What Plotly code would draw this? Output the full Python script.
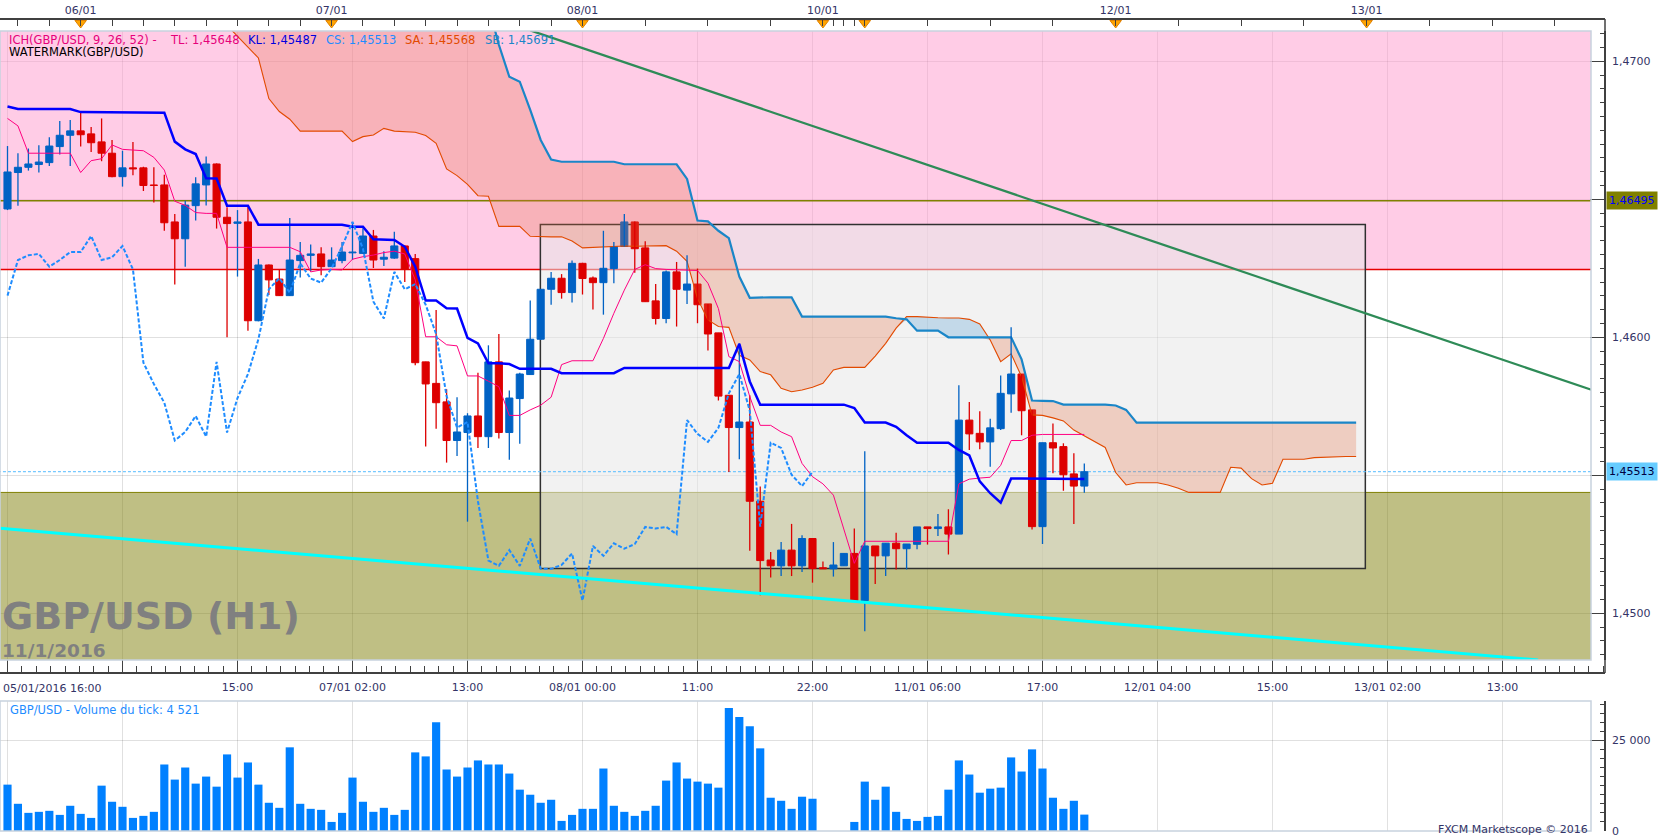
import numpy as np
import plotly.graph_objects as go

# GBP/USD H1 (FXCM Marketscope) - bar 0 = 05/01 17:00, one bar per hour
opens = [
    1.46465, 1.46597, 1.46616, 1.46626, 1.46633, 1.46691, 1.46732, 1.46748, 1.46737, 1.46708,
    1.46667, 1.46582, 1.46614, 1.46614, 1.46552, 1.46552, 1.46418, 1.46357, 1.46477, 1.46552,
    1.46628, 1.46435, 1.46413, 1.46418, 1.46060, 1.46262, 1.46211, 1.46151, 1.46278, 1.46297,
    1.46302, 1.46256, 1.46278, 1.46306, 1.46304, 1.46367, 1.46283, 1.46287, 1.46331, 1.46285,
    1.45911, 1.45833, 1.45766, 1.45626, 1.45655, 1.45715, 1.45640, 1.45911, 1.45655, 1.45778,
    1.45865, 1.45993, 1.46174, 1.46214, 1.46162, 1.46268, 1.46215, 1.46198, 1.46249, 1.46329,
    1.46418, 1.46324, 1.46132, 1.46068, 1.46237, 1.46171, 1.46193, 1.46121, 1.46016, 1.45790,
    1.45673, 1.45693, 1.45406, 1.45193, 1.45172, 1.45229, 1.45172, 1.45271, 1.45165, 1.45161,
    1.45172, 1.45217, 1.45046, 1.45244, 1.45208, 1.45254, 1.45234, 1.45250, 1.45313, 1.45307,
    1.45313, 1.45287, 1.45700, 1.45652, 1.45621, 1.45669, 1.45795, 1.45867, 1.45737, 1.45314,
    1.45618, 1.45604, 1.45505, 1.45461,
]
highs = [
    1.46693, 1.46667, 1.46684, 1.46696, 1.46725, 1.46784, 1.46787, 1.46814, 1.46762, 1.46793,
    1.46715, 1.46676, 1.46708, 1.46618, 1.46616, 1.46589, 1.46447, 1.46495, 1.46580, 1.46655,
    1.46630, 1.46471, 1.46461, 1.46471, 1.46284, 1.46264, 1.46244, 1.46432, 1.46345, 1.46336,
    1.46326, 1.46326, 1.46345, 1.46415, 1.46395, 1.46389, 1.46312, 1.46382, 1.46333, 1.46302,
    1.45911, 1.46099, 1.45812, 1.45783, 1.45725, 1.45872, 1.45971, 1.46012, 1.45807, 1.45872,
    1.46133, 1.46174, 1.46237, 1.46229, 1.46278, 1.46270, 1.46220, 1.46386, 1.46345, 1.46447,
    1.46420, 1.46348, 1.46193, 1.46242, 1.46273, 1.46297, 1.46249, 1.46121, 1.46016, 1.45790,
    1.45978, 1.45790, 1.45459, 1.45222, 1.45258, 1.45324, 1.45283, 1.45271, 1.45188, 1.45258,
    1.45217, 1.45307, 1.45587, 1.45244, 1.45254, 1.45292, 1.45251, 1.45313, 1.45313, 1.45360,
    1.45377, 1.45826, 1.45766, 1.45732, 1.45705, 1.45862, 1.46036, 1.45867, 1.45737, 1.45618,
    1.45688, 1.45616, 1.45580, 1.45543,
]
lows = [
    1.46461, 1.46477, 1.46604, 1.46597, 1.46621, 1.46662, 1.46621, 1.46691, 1.46671, 1.46638,
    1.46580, 1.46546, 1.46587, 1.46530, 1.46488, 1.46386, 1.46191, 1.46256, 1.46423, 1.46478,
    1.46394, 1.46000, 1.46220, 1.46024, 1.46058, 1.46153, 1.46150, 1.46150, 1.46217, 1.46239,
    1.46225, 1.46255, 1.46268, 1.46280, 1.46302, 1.46251, 1.46258, 1.46285, 1.46200, 1.45899,
    1.45604, 1.45669, 1.45546, 1.45570, 1.45332, 1.45599, 1.45599, 1.45633, 1.45556, 1.45614,
    1.45865, 1.45990, 1.46118, 1.46140, 1.46126, 1.46155, 1.46101, 1.46082, 1.46196, 1.46329,
    1.46234, 1.46129, 1.46046, 1.46051, 1.46039, 1.46121, 1.46051, 1.45952, 1.45771, 1.45512,
    1.45558, 1.45227, 1.45065, 1.45130, 1.45135, 1.45135, 1.45150, 1.45111, 1.45161, 1.45133,
    1.45172, 1.45046, 1.44935, 1.45106, 1.45135, 1.45159, 1.45159, 1.45232, 1.45249, 1.45280,
    1.45213, 1.45287, 1.45592, 1.45594, 1.45531, 1.45664, 1.45727, 1.45645, 1.45304, 1.45251,
    1.45507, 1.45444, 1.45324, 1.45437,
]
closes = [
    1.46599, 1.46616, 1.46628, 1.46635, 1.46693, 1.46732, 1.46748, 1.46734, 1.46705, 1.46667,
    1.46582, 1.46614, 1.46610, 1.46550, 1.46550, 1.46415, 1.46357, 1.46479, 1.46556, 1.46628,
    1.46435, 1.46412, 1.46418, 1.46060, 1.46262, 1.46208, 1.46151, 1.46280, 1.46297, 1.46302,
    1.46256, 1.46280, 1.46309, 1.46309, 1.46367, 1.46280, 1.46290, 1.46331, 1.46246, 1.45908,
    1.45831, 1.45763, 1.45626, 1.45657, 1.45715, 1.45640, 1.45911, 1.45655, 1.45780, 1.45867,
    1.45993, 1.46174, 1.46214, 1.46162, 1.46268, 1.46213, 1.46198, 1.46250, 1.46329, 1.46418,
    1.46321, 1.46129, 1.46068, 1.46237, 1.46174, 1.46193, 1.46118, 1.46012, 1.45787, 1.45673,
    1.45693, 1.45406, 1.45191, 1.45172, 1.45229, 1.45172, 1.45271, 1.45162, 1.45161, 1.45175,
    1.45217, 1.45046, 1.45244, 1.45208, 1.45254, 1.45234, 1.45251, 1.45313, 1.45307, 1.45313,
    1.45287, 1.45700, 1.45650, 1.45621, 1.45672, 1.45797, 1.45867, 1.45734, 1.45314, 1.45618,
    1.45599, 1.45502, 1.45461, 1.45513,
]
tick_volume = [
    12780, 7500, 5000, 5280, 5560, 4440, 6950, 4720, 3610, 12500,
    8060, 6670, 3610, 4170, 5280, 18330, 14170, 17500, 13060, 15000,
    12220, 21110, 14720, 18890, 12780, 7780, 6390, 23060, 7500, 6110,
    5830, 2500, 5000, 14720, 8060, 5280, 6390, 4440, 5830, 21670,
    20560, 30000, 16950, 15000, 17500, 19450, 18330, 18330, 15830, 11390,
    10000, 7780, 8610, 2780, 4440, 6110, 6110, 17220, 6950, 5280,
    4170, 5560, 6950, 13890, 18890, 14450, 13610, 13060, 11950, 33890,
    31390, 28890, 22780, 9170, 8330, 6110, 9450, 8890, 0, 0,
    0, 2500, 13610, 8610, 12220, 5280, 3330, 2780, 3890, 4170,
    11390, 19450, 15560, 10560, 11670, 11950, 20280, 16390, 22500, 17220,
    9170, 6110, 8330, 4521,
]
tenkan = [
    1.46793, 1.46766, 1.46667, 1.46667, 1.46667, 1.46667, 1.46667, 1.46597, 1.46640, 1.46647,
    1.46697, 1.46681, 1.46679, 1.46676, 1.46652, 1.46606, 1.46493, 1.46478, 1.46452, 1.46449,
    1.46449, 1.46326, 1.46326, 1.46326, 1.46326, 1.46326, 1.46326, 1.46326, 1.46310, 1.46237,
    1.46244, 1.46246, 1.46244, 1.46283, 1.46292, 1.46298, 1.46307, 1.46312, 1.46302, 1.46208,
    1.46002, 1.46002, 1.45973, 1.45969, 1.45860, 1.45860, 1.45841, 1.45821, 1.45717, 1.45717,
    1.45737, 1.45754, 1.45783, 1.45901, 1.45915, 1.45915, 1.45915, 1.45996, 1.46087, 1.46171,
    1.46246, 1.46263, 1.46249, 1.46246, 1.46244, 1.46244, 1.46242, 1.46196, 1.46104, 1.45930,
    1.45912, 1.45785, 1.45681, 1.45681, 1.45657, 1.45640, 1.45543, 1.45495, 1.45469, 1.45428,
    1.45300, 1.45181, 1.45261, 1.45261, 1.45261, 1.45261, 1.45261, 1.45261, 1.45261, 1.45261,
    1.45261, 1.45469, 1.45486, 1.45490, 1.45493, 1.45536, 1.45626, 1.45626, 1.45645, 1.45648,
    1.45648, 1.45648, 1.45648, 1.45648,
]
kijun = [
    1.46836, 1.46827, 1.46827, 1.46827, 1.46827, 1.46827, 1.46827, 1.46816, 1.46816, 1.46816,
    1.46816, 1.46816, 1.46816, 1.46816, 1.46816, 1.46814, 1.46709, 1.46681, 1.46664, 1.46576,
    1.46575, 1.46477, 1.46477, 1.46477, 1.46408, 1.46408, 1.46408, 1.46408, 1.46408, 1.46408,
    1.46408, 1.46408, 1.46408, 1.46401, 1.46401, 1.46355, 1.46353, 1.46353, 1.46328, 1.46256,
    1.46133, 1.46133, 1.46105, 1.46104, 1.45998, 1.45978, 1.45906, 1.45906, 1.45903, 1.45886,
    1.45886, 1.45886, 1.45886, 1.45870, 1.45870, 1.45870, 1.45870, 1.45870, 1.45870, 1.45889,
    1.45889, 1.45889, 1.45889, 1.45889, 1.45889, 1.45889, 1.45889, 1.45889, 1.45889, 1.45889,
    1.45976, 1.45840, 1.45756, 1.45756, 1.45756, 1.45756, 1.45756, 1.45756, 1.45756, 1.45756,
    1.45756, 1.45744, 1.45691, 1.45691, 1.45691, 1.45676, 1.45645, 1.45618, 1.45618, 1.45618,
    1.45618, 1.45592, 1.45572, 1.45478, 1.45435, 1.45401, 1.45488, 1.45488, 1.45488, 1.45488,
    1.45488, 1.45488, 1.45488, 1.45487,
]
# Senkou spans as drawn (already shifted 26 bars ahead), first value at bar 21
cloud_first_bar = 21
span_a = [
    1.47130, 1.47090, 1.47050, 1.47012, 1.46865, 1.46818, 1.46790, 1.46747, 1.46747, 1.46747,
    1.46747, 1.46747, 1.46709, 1.46727, 1.46733, 1.46757, 1.46747, 1.46745, 1.46743, 1.46731,
    1.46703, 1.46610, 1.46586, 1.46554, 1.46513, 1.46511, 1.46402, 1.46402, 1.46402, 1.46366,
    1.46364, 1.46364, 1.46364, 1.46349, 1.46324, 1.46326, 1.46327, 1.46329, 1.46331, 1.46330,
    1.46331, 1.46333, 1.46332, 1.46312, 1.46275, 1.46140, 1.46063, 1.46039, 1.46036, 1.45935,
    1.45918, 1.45876, 1.45864, 1.45815, 1.45803, 1.45809, 1.45819, 1.45833, 1.45882, 1.45891,
    1.45891, 1.45891, 1.45932, 1.45978, 1.46033, 1.46075, 1.46075, 1.46072, 1.46071, 1.46070,
    1.46070, 1.46065, 1.46048, 1.45990, 1.45912, 1.45940, 1.45857, 1.45719, 1.45717, 1.45708,
    1.45697, 1.45664, 1.45643, 1.45622, 1.45601, 1.45510, 1.45465, 1.45473, 1.45473, 1.45473,
    1.45465, 1.45453, 1.45438, 1.45438, 1.45438, 1.45438, 1.45529, 1.45526, 1.45488, 1.45465,
    1.45471, 1.45558, 1.45558, 1.45558, 1.45564, 1.45566, 1.45567, 1.45568, 1.45568,
]
span_b = [
    1.47300, 1.47300, 1.47300, 1.47300, 1.47300, 1.47300, 1.47300, 1.47300, 1.47300, 1.47300,
    1.47300, 1.47300, 1.47300, 1.47300, 1.47300, 1.47300, 1.47300, 1.47300, 1.47300, 1.47300,
    1.47300, 1.47300, 1.47300, 1.47300, 1.47300, 1.47200, 1.47060, 1.46944, 1.46926, 1.46824,
    1.46715, 1.46644, 1.46636, 1.46636, 1.46636, 1.46636, 1.46636, 1.46636, 1.46627, 1.46627,
    1.46627, 1.46627, 1.46627, 1.46627, 1.46574, 1.46423, 1.46420, 1.46386, 1.46359, 1.46220,
    1.46143, 1.46145, 1.46145, 1.46145, 1.46145, 1.46075, 1.46075, 1.46075, 1.46075, 1.46075,
    1.46075, 1.46075, 1.46075, 1.46075, 1.46069, 1.46065, 1.46024, 1.46024, 1.46024, 1.46000,
    1.46000, 1.46000, 1.46000, 1.46000, 1.46000, 1.46000, 1.45920, 1.45771, 1.45770, 1.45769,
    1.45756, 1.45756, 1.45756, 1.45756, 1.45756, 1.45753, 1.45737, 1.45691, 1.45691, 1.45691,
    1.45691, 1.45691, 1.45691, 1.45691, 1.45691, 1.45691, 1.45691, 1.45691, 1.45691, 1.45691,
    1.45691, 1.45691, 1.45691, 1.45691, 1.45691, 1.45691, 1.45691, 1.45691, 1.45691,
]
chikou_shift = 26

# drawing objects on the chart
green_trend_bars = [50.0, 151.5]
green_trend_prices = [1.47112, 1.45810]
cyan_trend_bars = [-0.7, 146.4]
cyan_trend_prices = [1.45308, 1.44831]
box_bars = [50.97, 129.88]
box_prices = [1.45162, 1.46409]
pink_zone_low = 1.46246
olive_line_level = 1.46495
olive_zone_high = 1.45438
last_price = 1.45513

# axes labels
price_ticks = [1.4500, 1.4550, 1.4600, 1.4650, 1.4700]
price_tick_text = ["1,4500", "", "1,4600", "", "1,4700"]   # hidden ones sit under the price boxes
grid_bars = [0, 11, 22, 33, 44, 55, 66, 77, 88, 99, 110, 121, 132, 143]
grid_labels = ["", "", "15:00", "07/01 02:00", "13:00", "08/01 00:00", "11:00", "22:00",
               "11/01 06:00", "17:00", "12/01 04:00", "15:00", "13/01 02:00", "13:00"]
top_tick_bars = [1, 4, 7, 10, 13, 16, 19, 22, 25, 28, 31, 34, 37, 40, 43, 46, 49, 52, 55,
                 61, 67, 73, 78, 79, 80, 81, 82, 88, 94, 100, 106, 112, 118, 124, 130,
                 136, 142, 148]
day_bars = [7, 31, 55, 78, 82, 106, 130]
day_labels = ["06/01", "07/01", "08/01", "10/01", "", "12/01", "13/01"]

# ---------------------------------------------------------------- geometry
FIG_W, FIG_H = 1663, 838
M_T, M_B, M_R = 19, 7, 58
PAPER_W = FIG_W - M_R
PAPER_H = FIG_H - M_T - M_B
BAR_PX = 10.4545
BAR0_PX = 7.5


def py(y_px):
    return (FIG_H - M_B - y_px) / PAPER_H


def px(x_px):
    return x_px / PAPER_W


x_lo = -BAR0_PX / BAR_PX
x_panel_hi = (1591 - BAR0_PX) / BAR_PX
x_full_hi = (PAPER_W - BAR0_PX) / BAR_PX
price_dom = [py(660), py(31)]
vol_dom = [0, py(701)]

FONT = "DejaVu Sans"
NAVY = "#333366"
AXC = "#404040"
GRID = "rgba(0,0,0,0.12)"
UP = "#0062C4"
DOWN = "#DD0000"

o = np.array(opens)
h = np.array(highs)
lo = np.array(lows)
c = np.array(closes)
bars = np.arange(len(c))
up = c >= o

fig = go.Figure()

# ---------------------------------------------------------------- cloud
cb = np.arange(cloud_first_bar, cloud_first_bar + len(span_a))
sa = np.array(span_a)
sb = np.array(span_b)
low_span = np.minimum(sa, sb)
fig.add_trace(go.Scatter(x=cb, y=sb, mode="lines", line=dict(width=0), hoverinfo="skip"))
fig.add_trace(go.Scatter(x=cb, y=low_span, mode="lines", line=dict(width=0), fill="tonexty",
                         fillcolor="rgba(230,110,70,0.28)", hoverinfo="skip"))
fig.add_trace(go.Scatter(x=cb, y=sa, mode="lines", line=dict(width=0), hoverinfo="skip"))
fig.add_trace(go.Scatter(x=cb, y=low_span, mode="lines", line=dict(width=0), fill="tonexty",
                         fillcolor="rgba(70,150,210,0.27)", hoverinfo="skip"))
fig.add_trace(go.Scatter(x=cb, y=sa, mode="lines", line=dict(color="#E24A00", width=1.1)))
fig.add_trace(go.Scatter(x=cb, y=sb, mode="lines", line=dict(color="#1A86C8", width=2.2)))

# ---------------------------------------------------------------- candles
for mask, col in ((up, UP), (~up, DOWN)):
    wx, wy = [], []
    for b in bars[mask]:
        wx += [b, b, None]
        wy += [lo[b], h[b], None]
    fig.add_trace(go.Scatter(x=wx, y=wy, mode="lines", line=dict(color=col, width=1.3),
                             hoverinfo="skip"))
    fig.add_trace(go.Bar(x=bars[mask], y=(c - o)[mask], base=o[mask], width=0.68,
                         marker=dict(color=col, line=dict(color=col, width=1))))

# ---------------------------------------------------------------- ichimoku lines
fig.add_trace(go.Scatter(x=bars, y=tenkan, mode="lines", line=dict(color="#FF0080", width=1)))
fig.add_trace(go.Scatter(x=bars, y=kijun, mode="lines", line=dict(color="#0000FF", width=2.5)))
fig.add_trace(go.Scatter(x=bars[:len(c) - chikou_shift], y=c[chikou_shift:], mode="lines",
                         line=dict(color="#1E8CFF", width=2, dash="4px,2px")))

# trend lines
fig.add_trace(go.Scatter(x=green_trend_bars, y=green_trend_prices, mode="lines",
                         line=dict(color="#2E8B57", width=2.3)))
fig.add_trace(go.Scatter(x=cyan_trend_bars, y=cyan_trend_prices, mode="lines",
                         line=dict(color="#00FFFF", width=3)))

# ---------------------------------------------------------------- volume
fig.add_trace(go.Bar(x=bars, y=tick_volume, width=0.78, marker=dict(color="#0080FF"),
                     yaxis="y2"))

# top axis markers and a carrier for the bottom axis
fig.add_trace(go.Scatter(x=day_bars, y=[0.67] * len(day_bars), xaxis="x2", yaxis="y3",
                         mode="markers", cliponaxis=False,
                         marker=dict(symbol="triangle-down", size=10, color="#FFA500",
                                     line=dict(color="#E08000", width=1))))
fig.add_trace(go.Scatter(x=[0], y=[-5], xaxis="x3", yaxis="y3", mode="markers",
                         marker=dict(opacity=0)))

# ---------------------------------------------------------------- shapes
shapes = []
for t in grid_bars:
    shapes.append(dict(type="line", xref="x", yref="y", x0=t, x1=t, y0=1.44, y1=1.48,
                       line=dict(color=GRID, width=1), layer="below"))
    shapes.append(dict(type="line", xref="x", yref="y2", x0=t, x1=t, y0=-1e5, y1=1e5,
                       line=dict(color=GRID, width=1), layer="below"))
shapes += [
    dict(type="rect", xref="x", yref="y", x0=-10, x1=200, y0=pink_zone_low, y1=1.48,
         fillcolor="rgba(255,153,205,0.5)", line=dict(width=0), layer="between"),
    dict(type="rect", xref="x", yref="y", x0=-10, x1=200, y0=1.44, y1=olive_zone_high,
         fillcolor="rgba(127,127,9,0.5)", line=dict(width=0), layer="between"),
    dict(type="line", xref="x", yref="y", x0=-10, x1=200, y0=olive_zone_high, y1=olive_zone_high,
         line=dict(color="#808000", width=1), layer="between"),
    dict(type="line", xref="x", yref="y", x0=-10, x1=200, y0=pink_zone_low, y1=pink_zone_low,
         line=dict(color="#E60000", width=1.5), layer="between"),
    dict(type="line", xref="x", yref="y", x0=-10, x1=200, y0=olive_line_level, y1=olive_line_level,
         line=dict(color="#808000", width=1.5), layer="between"),
    dict(type="rect", xref="x", yref="y", x0=box_bars[0], x1=box_bars[1],
         y0=box_prices[0], y1=box_prices[1], fillcolor="rgba(232,232,232,0.55)",
         line=dict(color="#303030", width=1.5), layer="between"),
    dict(type="line", xref="x", yref="y", x0=-10, x1=200, y0=last_price, y1=last_price,
         line=dict(color="#55BBFF", width=1, dash="3px,2px"), layer="between"),
    # pane borders
    dict(type="rect", xref="paper", yref="paper", x0=0, x1=px(1591), y0=price_dom[0],
         y1=price_dom[1], line=dict(color="#C8D2DE", width=1.5), layer="above"),
    dict(type="rect", xref="paper", yref="paper", x0=0, x1=px(1591), y0=vol_dom[0],
         y1=vol_dom[1], line=dict(color="#C8D2DE", width=1.5), layer="above"),
    dict(type="line", xref="paper", yref="paper", x0=1, x1=1, y0=py(673), y1=1,
         line=dict(color=AXC, width=1.5), layer="above"),
]

# ---------------------------------------------------------------- annotations
def note(text, x, y, color, size=11.5, anchor="left", bold=False, family=FONT, **kw):
    return dict(text=f"<b>{text}</b>" if bold else text, x=x, y=y, xref="paper",
                yref=kw.pop("yref", "paper"), xanchor=anchor, yanchor="middle",
                showarrow=False, font=dict(family=family, size=size, color=color), **kw)


annotations = [
    note("ICH(GBP/USD, 9, 26, 52) -", px(7), py(40), "#E6007A"),
    note("TL: 1,45648", px(168), py(40), "#E6007A"),
    note("KL: 1,45487", px(246), py(40), "#0000E0"),
    note("CS: 1,45513", px(324), py(40), "#1E8CFF"),
    note("SA: 1,45568", px(403), py(40), "#E24A00"),
    note("SB: 1,45691", px(482.7), py(40), "#1A86C8"),
    note("WATERMARK(GBP/USD)", px(7), py(52.5), "#000000"),
    note("GBP/USD (H1)", px(0), py(616), "#808080", size=38, bold=True),
    note("11/1/2016", px(0), py(650.5), "#808080", size=18.5, bold=True),
    note("05/01/2016 16:00", px(1), py(688), NAVY, size=11),
    note("GBP/USD - Volume du tick: 4 521", px(7.5), py(710), "#1E8CFF"),
    note("FXCM Marketscope © 2016", px(1590), py(829), NAVY, size=11, anchor="right"),
    note("1,46495", 1, olive_line_level, "#0000FF", size=11, yref="y", bgcolor="#808000",
         borderpad=2, xshift=1),
    note("1,45513", 1, last_price, "#000040", size=11, yref="y", bgcolor="#66CCFF",
         borderpad=2, xshift=1),
]

top_text = [day_labels[day_bars.index(t)] if t in day_bars else "" for t in top_tick_bars]
tickfont = dict(family=FONT, size=11, color=NAVY)

fig.update_layout(
    width=FIG_W, height=FIG_H,
    margin=dict(l=0, r=M_R, t=M_T, b=M_B),
    template="none",
    paper_bgcolor="white", plot_bgcolor="rgba(0,0,0,0)",
    separators=", ",
    showlegend=False, barmode="overlay", hovermode=False,
    shapes=shapes, annotations=annotations,
    xaxis=dict(domain=[0, px(1591)], range=[x_lo, x_panel_hi], visible=False, anchor="y"),
    xaxis2=dict(domain=[0, 1], range=[x_lo, x_full_hi], anchor="free", position=1, side="top",
                tickmode="array", tickvals=top_tick_bars, ticktext=top_text, ticks="inside",
                ticklen=6, tickcolor=AXC, showline=True, linecolor=AXC, linewidth=1.5,
                showgrid=False, zeroline=False, tickfont=tickfont),
    xaxis3=dict(domain=[0, 1], range=[x_lo, x_full_hi], anchor="free", position=py(673),
                side="bottom", tickmode="array", tickvals=grid_bars, ticktext=grid_labels,
                ticks="inside", ticklen=12, tickcolor=AXC, showline=True, linecolor=AXC,
                linewidth=1.5, showgrid=False, zeroline=False, tickfont=tickfont,
                ticklabelstandoff=4,
                minor=dict(tickmode="linear", tick0=0, dtick=11 / 8, ticks="inside",
                           ticklen=6, tickcolor=AXC)),
    yaxis=dict(domain=price_dom, range=[1.448308, 1.471098], anchor="free", position=1,
               side="right", tickmode="array", tickvals=price_ticks, ticktext=price_tick_text,
               ticks="inside", ticklen=14, tickcolor=AXC, showline=True, linecolor=AXC,
               linewidth=1.5, showgrid=True, gridcolor=GRID, zeroline=False,
               tickfont=tickfont, ticklabelstandoff=4,
               minor=dict(tickmode="linear", tick0=1.45, dtick=0.0005, ticks="inside",
                          ticklen=4, tickcolor=AXC)),
    yaxis2=dict(domain=vol_dom, range=[0, 35830], anchor="free", position=1, side="right",
                tickmode="linear", tick0=0, dtick=25000, tickformat=",d", ticks="inside",
                ticklen=14, tickcolor=AXC, showline=True, linecolor=AXC, linewidth=1.5,
                showgrid=True, gridcolor=GRID, zeroline=False, tickfont=tickfont,
                ticklabelstandoff=4,
                minor=dict(tick0=0, dtick=2500, ticks="inside", ticklen=4, tickcolor=AXC)),
    yaxis3=dict(domain=[py(31), 1], range=[0, 1], visible=False, anchor="free", position=0),
)

# the page body has a default 8px margin; drop it so the chart sits at the window corner
fig.write_html("out.html", config={"displayModeBar": False},
               post_script="document.body.style.margin='0px';")
